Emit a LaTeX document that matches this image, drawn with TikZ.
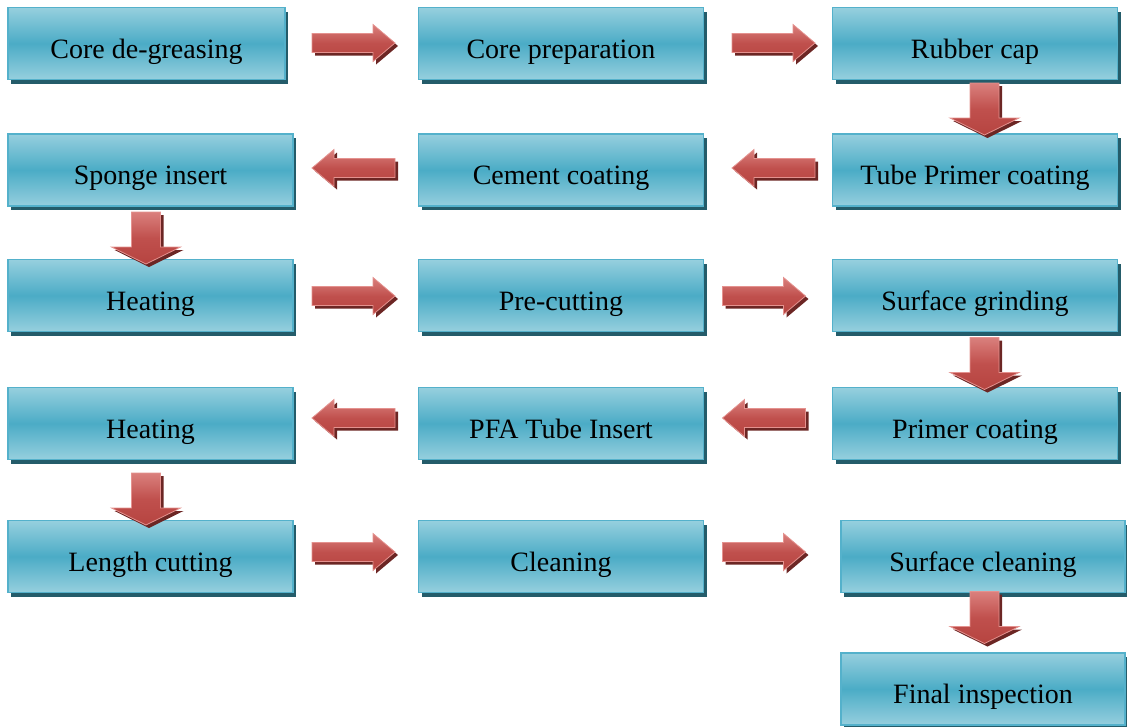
\documentclass[tikz,border=0pt]{standalone}
\usepackage{fontspec}
\setmainfont{Liberation Serif}
\usetikzlibrary{calc,shadows}

\definecolor{boxmid}{RGB}{75,172,198}
\definecolor{boxlight}{RGB}{150,207,222}
\definecolor{boxline}{RGB}{84,177,203}
\definecolor{boxshade}{RGB}{36,92,106}
\definecolor{arrmid}{RGB}{192,80,77}
\definecolor{arrlight}{RGB}{218,128,125}
\definecolor{arrdark}{RGB}{182,68,64}
\definecolor{arrline}{RGB}{228,146,143}
\definecolor{arrshade}{RGB}{108,38,36}

\tikzset{
  stepbox/.style={rectangle, draw=boxline, line width=1.6pt,
    top color=boxlight, bottom color=boxlight, middle color=boxmid,
    minimum height=72pt, minimum width=285pt, inner sep=0pt, outer sep=0pt,
    text height=29pt, text depth=0pt,
    font=\fontsize{28}{30}\selectfont, text=black,
    drop shadow={shadow xshift=3pt, shadow yshift=-4pt, fill=boxshade, opacity=1}},
  arrbody/.style={draw=arrline, line width=0.8pt,
    top color=arrlight, bottom color=arrdark, middle color=arrmid},
  arrshadow/.style={fill=arrshade},
}

% horizontal block arrow: #1 centre, #2 = 1 (points right) or -1 (points left)
\newcommand\harrow[2]{%
  \fill[arrshadow, shift={#1}, shift={(3,3)}, xscale=#2]
    (-41.5,-9.5) -- (19.5,-9.5) -- (19.5,-18.5) -- (41.5,0) -- (19.5,18.5)
    -- (19.5,9.5) -- (-41.5,9.5) -- cycle;
  \path[arrbody, shift={#1}, xscale=#2]
    (-41.5,-9.5) -- (19.5,-9.5) -- (19.5,-18.5) -- (41.5,0) -- (19.5,18.5)
    -- (19.5,9.5) -- (-41.5,9.5) -- cycle;
}
% downward block arrow: #1 top centre of the shaft
\newcommand\varrow[1]{%
  \fill[arrshadow, shift={#1}, shift={(3,3)}]
    (-14.5,0) -- (14.5,0) -- (14.5,35) -- (34.5,35) -- (0,52)
    -- (-34.5,35) -- (-14.5,35) -- cycle;
  \path[arrbody, shift={#1}]
    (-14.5,0) -- (14.5,0) -- (14.5,35) -- (34.5,35) -- (0,52)
    -- (-34.5,35) -- (-14.5,35) -- cycle;
}

\begin{document}
\begin{tikzpicture}[x=1pt, y=-1pt]
\useasboundingbox (0,0) rectangle (1127,726);

% process steps
\node[stepbox, minimum width=277pt] (degrease) at (146.5,43.5) {Core de-greasing};
\node[stepbox] (prep)    at (561,43.5)  {Core preparation};
\node[stepbox] (cap)     at (975,43.5)  {Rubber cap};

\node[stepbox] (sponge)  at (150.5,170) {Sponge insert};
\node[stepbox] (cement)  at (561,170)   {Cement coating};
\node[stepbox] (tubepr)  at (975,170)   {Tube Primer coating};

\node[stepbox] (heat1)   at (150.5,295.5) {Heating};
\node[stepbox] (precut)  at (561,295.5)   {Pre-cutting};
\node[stepbox] (grind)   at (975,295.5)   {Surface grinding};

\node[stepbox] (heat2)   at (150.5,423.5) {Heating};
\node[stepbox] (pfa)     at (561,423.5)   {PFA Tube Insert};
\node[stepbox] (primer)  at (975,423.5)   {Primer coating};

\node[stepbox] (length)  at (150.5,556.5) {Length cutting};
\node[stepbox] (clean)   at (561,556.5)   {Cleaning};
\node[stepbox, minimum width=284pt] (surfcl) at (983,556.5) {Surface cleaning};

\node[stepbox, minimum width=284pt] (final) at (983,689) {Final inspection};

% flow arrows
\harrow{($(degrease)!.5!(prep)+(-0.25,-0.5)$)}{1}
\harrow{($(prep)!.5!(cap)+(5.5,-0.5)$)}{1}
\varrow{($(cap.south)+(9.5,3.5)$)}
\harrow{($(cement)!.5!(tubepr)+(5.5,-2)$)}{-1}
\harrow{($(sponge)!.5!(cement)+(-2.25,-2)$)}{-1}
\varrow{($(sponge.south)+(-4.5,6)$)}
\harrow{($(heat1)!.5!(precut)+(-2.25,0.5)$)}{1}
\harrow{($(precut)!.5!(grind)+(-4,0.5)$)}{1}
\varrow{($(grind.south)+(9.5,6)$)}
\harrow{($(pfa)!.5!(primer)+(-4,-5.5)$)}{-1}
\harrow{($(heat2)!.5!(pfa)+(-2.25,-5.5)$)}{-1}
\varrow{($(heat2.south)+(-4.5,13.5)$)}
\harrow{($(length)!.5!(clean)+(-2.25,-4.5)$)}{1}
\harrow{($(clean)!.5!(surfcl)+(-8,-4.5)$)}{1}
\varrow{($(surfcl.south)+(1.5,-1)$)}
\end{tikzpicture}
\end{document}
